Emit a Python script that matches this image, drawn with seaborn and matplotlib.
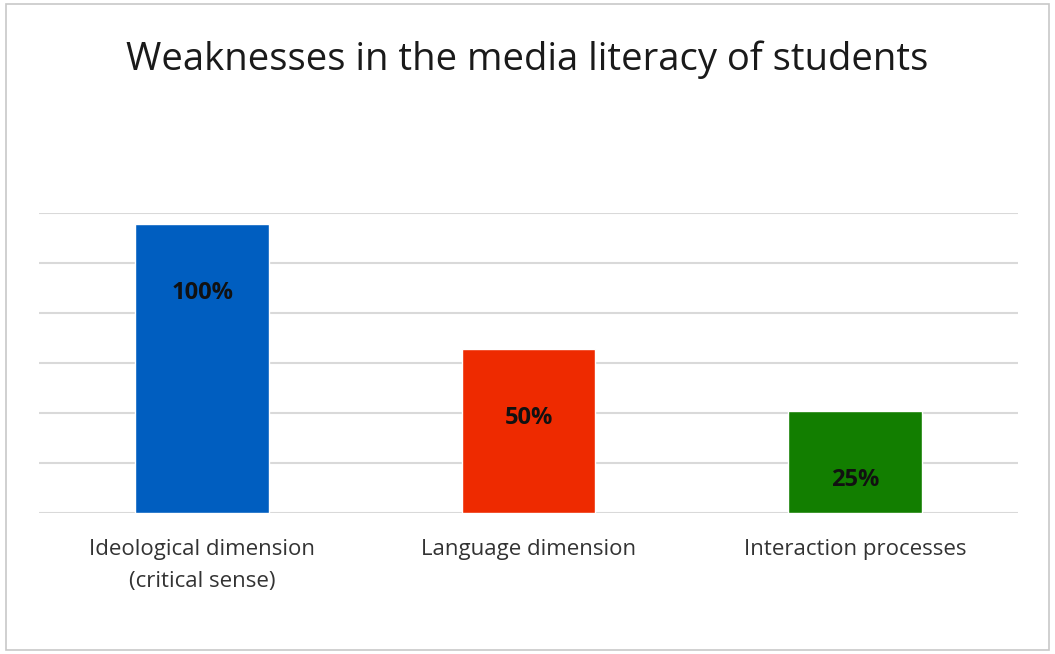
import matplotlib
matplotlib.use('Agg')
import matplotlib.pyplot as plt
import seaborn as sns
import pandas as pd
from matplotlib.patches import Rectangle


categories = ['Ideological dimension\n(critical sense)', 'Language dimension', 'Interaction processes']
bar_heights = [5.79, 3.28, 2.05]
value_labels = ['100%', '50%', '25%']
bar_colors = ['#005EC0', '#EE2A00', '#127E00']

data = pd.DataFrame({'category': categories, 'height': bar_heights})

sns.set_style('white')
plt.rcParams['font.family'] = ['Open Sans', 'DejaVu Sans']

fig = plt.figure(figsize=(10.55, 6.54), dpi=100)
ax = fig.add_axes([0.037, 0.2156, 0.928, 0.4587])

sns.barplot(data=data, x='category', y='height', hue='category',
            palette=bar_colors, legend=False, width=0.41, saturation=1, ax=ax)

ax.set_ylim(0, 6)
ax.set_xlim(-0.5, 2.5)
ax.set_yticks(range(0, 7))
ax.yaxis.grid(True, color='#d9d9d9', linewidth=1.5)
ax.set_axisbelow(True)
ax.set_yticklabels([])
ax.tick_params(axis='y', length=0)
ax.set_xticks(range(len(categories)), labels=categories, linespacing=1.65)
ax.tick_params(axis='x', length=0, pad=19, labelsize=16, labelcolor='#333333')
ax.set_xlabel('')
ax.set_ylabel('')
for s in ax.spines.values():
    s.set_visible(False)

for i, (h, lab) in enumerate(zip(bar_heights, value_labels)):
    ax.annotate(lab, (i, h), xytext=(0, -50), textcoords='offset points',
                ha='center', va='center', fontsize=17, fontweight='bold', color='#111111')

fig.text(0.5, 0.908, 'Weaknesses in the media literacy of students',
         ha='center', va='center', fontsize=27.5, color='#1a1a1a')

# light frame around the whole chart
fig.patches.append(Rectangle((0.006, 0.006), 0.988, 0.988, transform=fig.transFigure,
                             fill=False, edgecolor='#c8c8c8', linewidth=1.2))

fig.savefig('out.png', dpi=100)
